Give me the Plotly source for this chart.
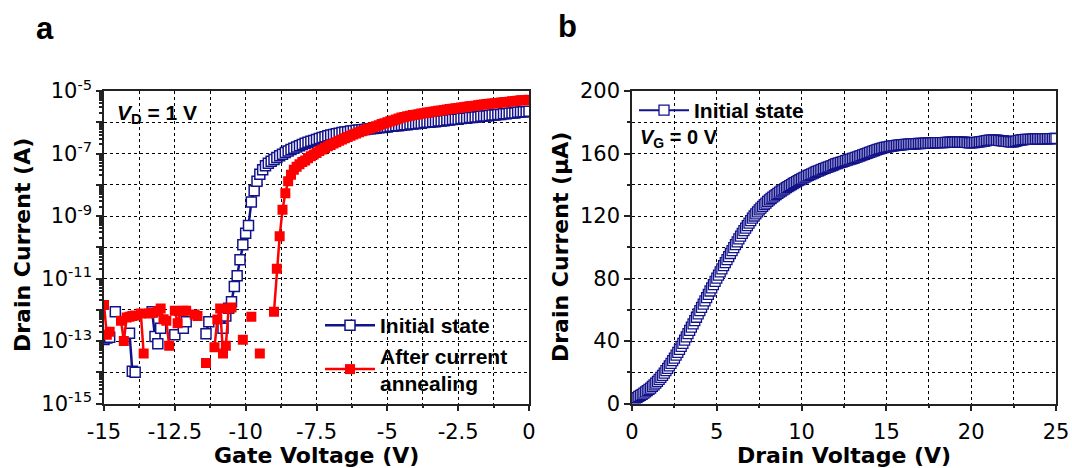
import plotly.graph_objects as go

# ---------------- data ----------------
# Panel a: transfer curves (gate sweep), drain current stored as log10(I [A]); None = not shown on log axis
GATE_V = [
    -15.0, -14.9, -14.8, -14.7, -14.6, -14.5, -14.4, -14.3, -14.2, -14.1,
    -14.0, -13.9, -13.8, -13.7, -13.6, -13.5, -13.4, -13.3, -13.2, -13.1,
    -13.0, -12.9, -12.8, -12.7, -12.6, -12.5, -12.4, -12.3, -12.2, -12.1,
    -12.0, -11.9, -11.8, -11.7, -11.6, -11.5, -11.4, -11.3, -11.2, -11.1,
    -11.0, -10.9, -10.8, -10.7, -10.6, -10.5, -10.4, -10.3, -10.2, -10.1,
    -10.0, -9.9, -9.8, -9.7, -9.6, -9.5, -9.4, -9.3, -9.2, -9.1,
    -9.0, -8.9, -8.8, -8.7, -8.6, -8.5, -8.4, -8.3, -8.2, -8.1,
    -8.0, -7.9, -7.8, -7.7, -7.6, -7.5, -7.4, -7.3, -7.2, -7.1,
    -7.0, -6.9, -6.8, -6.7, -6.6, -6.5, -6.4, -6.3, -6.2, -6.1,
    -6.0, -5.9, -5.8, -5.7, -5.6, -5.5, -5.4, -5.3, -5.2, -5.1,
    -5.0, -4.9, -4.8, -4.7, -4.6, -4.5, -4.4, -4.3, -4.2, -4.1,
    -4.0, -3.9, -3.8, -3.7, -3.6, -3.5, -3.4, -3.3, -3.2, -3.1,
    -3.0, -2.9, -2.8, -2.7, -2.6, -2.5, -2.4, -2.3, -2.2, -2.1,
    -2.0, -1.9, -1.8, -1.7, -1.6, -1.5, -1.4, -1.3, -1.2, -1.1,
    -1.0, -0.9, -0.8, -0.7, -0.6, -0.5, -0.4, -0.3, -0.2, -0.1,
    0.0,
]

LOG_I_INITIAL = [
    -12.95, -12.90, -12.88, None, -12.06, None, None, None, None, -12.75,
    -13.97, -14.00, None, None, None, None, None, -12.06, -12.86, -13.09,
    -12.59, None, None, None, None, -12.80, None, None, -12.59, -12.38,
    None, None, None, None, None, None, -12.77, -12.38, None, None,
    None, None, -12.59, -12.20, -11.95, -11.74, -11.26, -10.91, -10.40, -9.92,
    -9.55, -9.30, -8.55, -8.19, -7.89, -7.66, -7.52, -7.39, -7.31, -7.25,
    -7.19, -7.13, -7.07, -7.02, -6.97, -6.92, -6.87, -6.83, -6.79, -6.75,
    -6.71, -6.67, -6.64, -6.61, -6.58, -6.55, -6.52, -6.49, -6.46, -6.43,
    -6.41, -6.39, -6.37, -6.35, -6.33, -6.31, -6.30, -6.28, -6.27, -6.26,
    -6.25, -6.24, -6.23, -6.22, -6.21, -6.20, -6.19, -6.18, -6.17, -6.16,
    -6.15, -6.13, -6.13, -6.11, -6.11, -6.10, -6.08, -6.08, -6.06, -6.06,
    -6.05, -6.03, -6.03, -6.01, -6.00, -6.00, -5.98, -5.98, -5.96, -5.96,
    -5.95, -5.93, -5.93, -5.91, -5.90, -5.90, -5.88, -5.87, -5.87, -5.85,
    -5.85, -5.83, -5.83, -5.81, -5.80, -5.80, -5.78, -5.77, -5.77, -5.75,
    -5.75, -5.73, -5.73, -5.71, -5.70, -5.70, -5.68, -5.67, -5.66, -5.66,
    -5.65,
]

LOG_I_ANNEALED = [
    -11.85, -12.80, -12.70, None, None, None, -12.35, -13.00, -12.25, -12.22,
    -12.20, -12.18, None, -12.12, -13.40, None, -12.12, -12.10, None, -12.05,
    -11.96, -12.30, -12.35, -13.15, None, -12.03, -12.43, -12.05, -12.03, -12.03,
    None, None, -12.15, -12.20, None, None, -13.70, None, None, -13.20,
    -12.31, -11.96, -13.40, -13.15, -11.96, -11.93, None, None, None, -12.96,
    None, None, -12.22, None, None, -13.40, None, None, None, None,
    -12.06, -10.69, -9.65, -8.80, -8.27, -7.89, -7.68, -7.52, -7.42, -7.34,
    -7.27, -7.22, -7.15, -7.09, -7.03, -6.98, -6.92, -6.87, -6.82, -6.77,
    -6.73, -6.68, -6.64, -6.59, -6.55, -6.51, -6.47, -6.43, -6.39, -6.36,
    -6.32, -6.29, -6.26, -6.22, -6.19, -6.16, -6.13, -6.10, -6.06, -6.03,
    -6.00, -5.97, -5.94, -5.91, -5.88, -5.85, -5.83, -5.81, -5.79, -5.77,
    -5.76, -5.74, -5.72, -5.71, -5.69, -5.68, -5.66, -5.65, -5.63, -5.62,
    -5.61, -5.59, -5.58, -5.57, -5.55, -5.54, -5.53, -5.52, -5.50, -5.49,
    -5.48, -5.47, -5.46, -5.44, -5.43, -5.42, -5.41, -5.40, -5.39, -5.38,
    -5.37, -5.36, -5.35, -5.34, -5.33, -5.32, -5.31, -5.30, -5.30, -5.29,
    -5.28,
]

# Panel b: output curve, V_G = 0 V
DRAIN_V = [
    0.0, 0.1, 0.2, 0.3, 0.4, 0.5, 0.6, 0.7, 0.8, 0.9,
    1.0, 1.1, 1.2, 1.3, 1.4, 1.5, 1.6, 1.7, 1.8, 1.9,
    2.0, 2.1, 2.2, 2.3, 2.4, 2.5, 2.6, 2.7, 2.8, 2.9,
    3.0, 3.1, 3.2, 3.3, 3.4, 3.5, 3.6, 3.7, 3.8, 3.9,
    4.0, 4.1, 4.2, 4.3, 4.4, 4.5, 4.6, 4.7, 4.8, 4.9,
    5.0, 5.1, 5.2, 5.3, 5.4, 5.5, 5.6, 5.7, 5.8, 5.9,
    6.0, 6.1, 6.2, 6.3, 6.4, 6.5, 6.6, 6.7, 6.8, 6.9,
    7.0, 7.1, 7.2, 7.3, 7.4, 7.5, 7.6, 7.7, 7.8, 7.9,
    8.0, 8.1, 8.2, 8.3, 8.4, 8.5, 8.6, 8.7, 8.8, 8.9,
    9.0, 9.1, 9.2, 9.3, 9.4, 9.5, 9.6, 9.7, 9.8, 9.9,
    10.0, 10.1, 10.2, 10.3, 10.4, 10.5, 10.6, 10.7, 10.8, 10.9,
    11.0, 11.1, 11.2, 11.3, 11.4, 11.5, 11.6, 11.7, 11.8, 11.9,
    12.0, 12.1, 12.2, 12.3, 12.4, 12.5, 12.6, 12.7, 12.8, 12.9,
    13.0, 13.1, 13.2, 13.3, 13.4, 13.5, 13.6, 13.7, 13.8, 13.9,
    14.0, 14.1, 14.2, 14.3, 14.4, 14.5, 14.6, 14.7, 14.8, 14.9,
    15.0, 15.1, 15.2, 15.3, 15.4, 15.5, 15.6, 15.7, 15.8, 15.9,
    16.0, 16.1, 16.2, 16.3, 16.4, 16.5, 16.6, 16.7, 16.8, 16.9,
    17.0, 17.1, 17.2, 17.3, 17.4, 17.5, 17.6, 17.7, 17.8, 17.9,
    18.0, 18.1, 18.2, 18.3, 18.4, 18.5, 18.6, 18.7, 18.8, 18.9,
    19.0, 19.1, 19.2, 19.3, 19.4, 19.5, 19.6, 19.7, 19.8, 19.9,
    20.0, 20.1, 20.2, 20.3, 20.4, 20.5, 20.6, 20.7, 20.8, 20.9,
    21.0, 21.1, 21.2, 21.3, 21.4, 21.5, 21.6, 21.7, 21.8, 21.9,
    22.0, 22.1, 22.2, 22.3, 22.4, 22.5, 22.6, 22.7, 22.8, 22.9,
    23.0, 23.1, 23.2, 23.3, 23.4, 23.5, 23.6, 23.7, 23.8, 23.9,
    24.0, 24.1, 24.2, 24.3, 24.4, 24.5, 24.6, 24.7, 24.8, 24.9,
    25.0,
]

DRAIN_I_UA = [
    2.0, 2.6, 3.2, 3.8, 4.5, 5.2, 5.9, 6.6, 7.4, 8.2,
    9.0, 9.9, 10.9, 11.9, 13.0, 14.2, 15.4, 16.7, 18.0, 19.5,
    21.0, 22.5, 24.1, 25.7, 27.4, 29.1, 30.9, 32.7, 34.6, 36.5,
    38.5, 40.5, 42.6, 44.7, 46.8, 48.9, 51.0, 53.1, 55.2, 57.3,
    59.4, 61.5, 63.6, 65.7, 67.8, 69.9, 72.0, 74.0, 76.1, 78.1,
    80.2, 82.2, 84.2, 86.2, 88.2, 90.1, 92.1, 94.0, 96.0, 97.9,
    99.8, 101.7, 103.5, 105.3, 107.1, 108.9, 110.6, 112.3, 113.9, 115.5,
    117.1, 118.6, 120.0, 121.4, 122.7, 123.9, 125.1, 126.2, 127.3, 128.3,
    129.3, 130.3, 131.2, 132.1, 132.9, 133.7, 134.5, 135.3, 136.0, 136.7,
    137.4, 138.1, 138.8, 139.5, 140.1, 140.8, 141.4, 142.0, 142.6, 143.2,
    143.8, 144.4, 144.9, 145.5, 146.0, 146.5, 147.0, 147.5, 148.0, 148.5,
    148.9, 149.4, 149.8, 150.3, 150.7, 151.1, 151.5, 151.9, 152.3, 152.8,
    153.3, 153.6, 154.0, 154.3, 154.7, 155.0, 155.4, 155.7, 156.1, 156.4,
    156.8, 157.1, 157.5, 157.9, 158.3, 158.7, 159.1, 159.5, 159.9, 160.3,
    160.7, 161.1, 161.5, 161.9, 162.3, 162.7, 163.0, 163.3, 163.6, 163.9,
    164.1, 164.3, 164.5, 164.7, 164.9, 165.1, 165.2, 165.4, 165.5, 165.6,
    165.7, 165.8, 165.9, 166.0, 166.0, 166.1, 166.2, 166.2, 166.3, 166.4,
    166.4, 166.5, 166.5, 166.6, 166.6, 166.7, 166.7, 166.8, 166.8, 166.9,
    166.9, 167.0, 167.0, 167.0, 167.0, 167.1, 167.1, 167.2, 167.2, 167.2,
    167.2, 167.3, 167.3, 167.3, 167.3, 167.3, 167.2, 167.1, 166.9, 166.8,
    166.8, 166.9, 167.0, 167.1, 167.3, 167.4, 167.6, 167.7, 167.9, 168.2,
    168.4, 168.5, 168.6, 168.6, 168.5, 168.5, 168.4, 168.3, 168.2, 168.0,
    167.9, 167.7, 167.6, 167.5, 167.4, 167.5, 167.8, 168.1, 168.4, 168.6,
    168.8, 168.9, 169.0, 169.0, 169.1, 169.1, 169.2, 169.2, 169.3, 169.3,
    169.3, 169.3, 169.4, 169.4, 169.4, 169.5, 169.5, 169.5, 169.5, 169.6,
    169.6,
]

GATE_TICKS = [-15, -12.5, -10, -7.5, -5, -2.5, 0]
GATE_TICK_TEXT = ["-15", "-12.5", "-10", "-7.5", "-5", "-2.5", "0"]
LOG_DECADES = [-15, -14, -13, -12, -11, -10, -9, -8, -7, -6, -5]

# ---------------- styling ----------------
W, H = 1072, 468
FONT = "Liberation Sans, Arial, Helvetica, sans-serif"
WIDE = "DejaVu Sans, Verdana, sans-serif"
NAVY = "#12128a"
RED = "#ff0000"
AXIS = "#222222"

def px_x(p):
    return p / W

def px_y(p):
    return 1 - p / H

def to_amps(logs):
    return [None if v is None else 10 ** v for v in logs]

fig = go.Figure()

fig.add_trace(go.Scatter(
    x=GATE_V, y=to_amps(LOG_I_INITIAL), mode="lines+markers", name="Initial state",
    line=dict(color=NAVY, width=2.5),
    marker=dict(symbol="square", size=10, color="white", line=dict(color=NAVY, width=1.5)),
    xaxis="x", yaxis="y", legend="legend", connectgaps=False,
))
fig.add_trace(go.Scatter(
    x=GATE_V, y=to_amps(LOG_I_ANNEALED), mode="lines+markers", name="After current<br>annealing",
    line=dict(color=RED, width=2.5),
    marker=dict(symbol="square", size=10, color=RED, line=dict(color=RED, width=0)),
    xaxis="x", yaxis="y", legend="legend", connectgaps=False,
))
fig.add_trace(go.Scatter(
    x=DRAIN_V, y=DRAIN_I_UA, mode="lines+markers", name="Initial state",
    line=dict(color=NAVY, width=2),
    marker=dict(symbol="square", size=10, color="white", line=dict(color=NAVY, width=1.3)),
    xaxis="x2", yaxis="y2", legend="legend2",
))

axis_common = dict(
    automargin=False,
    showline=True, linecolor=AXIS, linewidth=1.5, mirror=True,
    ticks="outside", ticklen=6, tickwidth=1.5, tickcolor=AXIS,
    tickfont=dict(family=WIDE, size=21, color="black"),
    zeroline=False,
    showgrid=True, gridcolor="black", griddash="dot", gridwidth=1,
)

y_dom = [px_y(403.5), px_y(91)]

decade_text = ["10<sup>%d</sup>" % e if e % 2 != 0 else "" for e in LOG_DECADES]
minor_log = [k * 10.0 ** e for e in LOG_DECADES[:-1] for k in range(2, 10)]

fig.update_layout(
    width=W, height=H,
    margin=dict(l=0, r=0, t=0, b=0, autoexpand=False),
    paper_bgcolor="white", plot_bgcolor="white",
    font=dict(family=FONT, color="black"),
    xaxis=dict(
        domain=[px_x(104), px_x(529)], range=[-15, 0], anchor="y",
        tickmode="array", tickvals=GATE_TICKS, ticktext=GATE_TICK_TEXT,
        ticklabelstandoff=3,
        minor=dict(tickvals=[-13.75, -11.25, -8.75, -6.25, -3.75, -1.25],
                   ticks="outside", ticklen=3, tickcolor=AXIS,
                   showgrid=True, gridcolor="black", griddash="dot", gridwidth=1),
        **axis_common,
    ),
    yaxis=dict(
        domain=y_dom, type="log", range=[-15, -5], anchor="x",
        tickmode="array", tickvals=[10.0 ** e for e in LOG_DECADES], ticktext=decade_text,
        minor=dict(tickvals=minor_log, ticks="outside", ticklen=3, tickcolor=AXIS, showgrid=False),
        **axis_common,
    ),
    xaxis2=dict(
        domain=[px_x(632), px_x(1056)], range=[0, 25], anchor="y2",
        tickmode="linear", tick0=0, dtick=5,
        ticklabelstandoff=3,
        minor=dict(dtick=2.5, tick0=0, ticks="outside", ticklen=3, tickcolor=AXIS,
                   showgrid=True, gridcolor="black", griddash="dot", gridwidth=1),
        **axis_common,
    ),
    yaxis2=dict(
        domain=y_dom, range=[0, 200], anchor="x2",
        tickmode="linear", tick0=0, dtick=40,
        minor=dict(dtick=20, tick0=0, ticks="outside", ticklen=3, tickcolor=AXIS,
                   showgrid=True, gridcolor="black", griddash="dot", gridwidth=1),
        **axis_common,
    ),
    legend=dict(
        x=px_x(320), y=px_y(305), xanchor="left", yanchor="top",
        bgcolor="rgba(0,0,0,0)", borderwidth=0,
        font=dict(family=FONT, size=21, color="black", weight="bold"),
        tracegroupgap=0, itemwidth=50,
    ),
    legend2=dict(
        x=px_x(634), y=px_y(90), xanchor="left", yanchor="top",
        bgcolor="rgba(0,0,0,0)", borderwidth=0,
        font=dict(family=FONT, size=21, color="black", weight="bold"),
        itemwidth=50,
    ),
    showlegend=True,
)

def note(text, x, y, size=20, family=FONT, xanchor="center", yanchor="middle", angle=0):
    fig.add_annotation(
        text=text, x=px_x(x), y=px_y(y), xref="paper", yref="paper",
        xanchor=xanchor, yanchor=yanchor, textangle=angle, showarrow=False,
        font=dict(family=family, size=size, color="black"),
    )

# panel letters
note("<b>a</b>", 45, 28, size=31)
note("<b>b</b>", 567, 26, size=31)
# axis titles
note("<b>Drain Current (A)</b>", 22, 245, size=22, family=WIDE, angle=-90)
note("<b>Gate Voltage (V)</b>", 316, 455, size=22, family=WIDE)
note("<b>Drain Current (\u03bcA)</b>", 560, 247, size=22, family=WIDE, angle=-90)
note("<b>Drain Voltage (V)</b>", 844, 455, size=22, family=WIDE)
# in-plot labels
note("<b><i>V</i><sub>D</sub> = 1 V</b>", 115, 114, size=21, xanchor="left")
note("<b><i>V</i><sub>G</sub> = 0 V</b>", 638, 138, size=20, xanchor="left")

fig.write_html("out.html")
